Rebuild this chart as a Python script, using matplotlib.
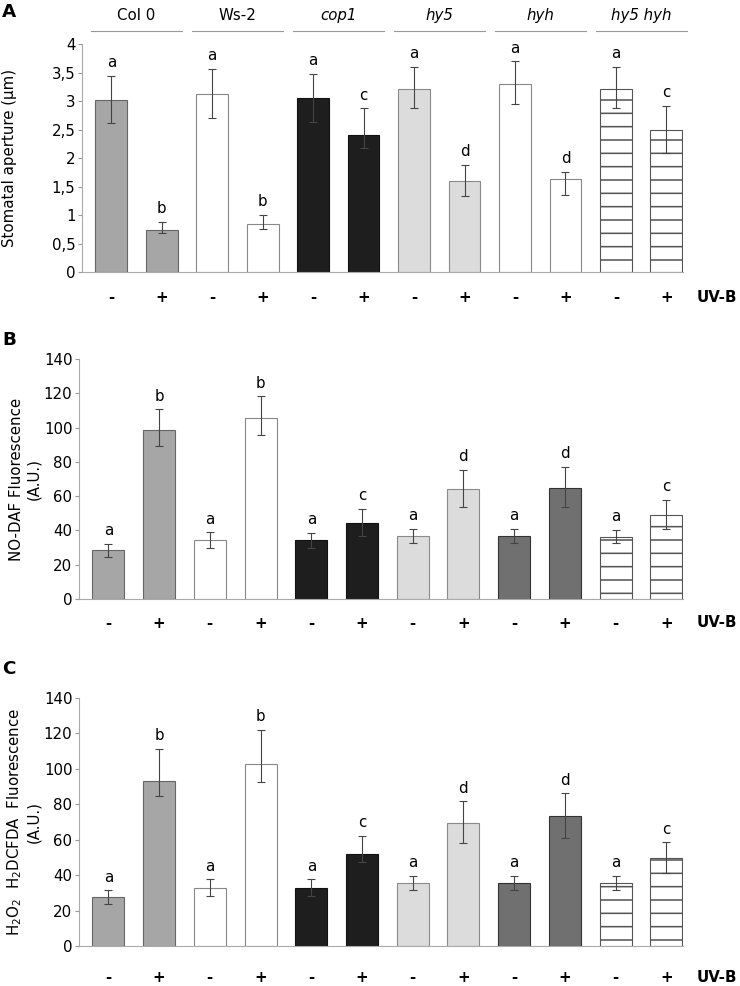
import matplotlib
matplotlib.use("Agg")
import matplotlib.pyplot as plt
import numpy as np

# genotipos y tratamientos
genotypes = ["Col 0", "Ws-2", "cop1", "hy5", "hyh", "hy5 hyh"]
italic = [False, False, True, True, True, True]
treatments = ["-", "+"] * 6

# Panel A: apertura estomática (µm)
a_vals = [3.02, 0.745, 3.13, 0.84, 3.05, 2.40, 3.21, 1.60, 3.30, 1.63, 3.21, 2.49]
a_up = [3.44, 0.88, 3.57, 1.00, 3.48, 2.87, 3.60, 1.88, 3.70, 1.76, 3.60, 2.92]
a_lo = [2.61, 0.68, 2.70, 0.76, 2.63, 2.17, 2.87, 1.33, 2.94, 1.36, 2.87, 2.08]
a_let = ["a", "b", "a", "b", "a", "c", "a", "d", "a", "d", "a", "c"]

# Panel B: NO-DAF
b_vals = [28.4, 98.8, 34.2, 105.8, 34.2, 44.3, 36.6, 64.4, 36.6, 64.8, 36.4, 49.2]
b_up = [32.3, 110.7, 38.9, 118.3, 38.7, 52.7, 41.0, 75.4, 41.0, 77.2, 40.5, 57.8]
b_lo = [24.3, 89.5, 29.6, 95.7, 29.6, 36.8, 32.5, 53.7, 32.5, 53.9, 32.5, 41.0]
b_let = ["a", "b", "a", "b", "a", "c", "a", "d", "a", "d", "a", "c"]

# Panel C: H2DCFDA
c_vals = [27.7, 93.4, 33.0, 102.5, 33.0, 52.2, 35.4, 69.7, 35.4, 73.5, 35.4, 49.6]
c_up = [31.5, 111.4, 37.7, 122.1, 37.7, 62.2, 39.7, 81.8, 39.7, 86.3, 39.7, 58.6]
c_lo = [23.9, 84.6, 28.4, 92.5, 28.4, 47.5, 31.7, 58.0, 31.7, 61.2, 31.7, 41.4]
c_let = ["a", "b", "a", "b", "a", "c", "a", "d", "a", "d", "a", "c"]

# estilos por genotipo (hyh blanco en A, gris oscuro en B y C)
fills_A = ["#a6a6a6", "#ffffff", "#1e1e1e", "#dcdcdc", "#ffffff", "#ffffff"]
fills_BC = ["#a6a6a6", "#ffffff", "#1e1e1e", "#dcdcdc", "#707070", "#ffffff"]
edges_A = ["#666666", "#888888", "#111111", "#8a8a8a", "#888888", "#555555"]
edges_BC = ["#666666", "#888888", "#111111", "#8a8a8a", "#333333", "#555555"]

DPI = 80
FS = 13.5
fig = plt.figure(figsize=(740 / DPI, 986 / DPI), dpi=DPI)
plt.rcParams["font.family"] = "DejaVu Sans"
plt.rcParams["hatch.linewidth"] = 1.4

x = np.arange(len(treatments))
W = 0.63


def panel(rect, vals, up, lo, letters, fills, edges, ylim, yticks, yticklabels,
          ylabel, letter, letter_y, xlab_pad, uvb_y):
    ax = fig.add_axes(rect)
    for i in range(len(vals)):
        g = i // 2
        hatch = "-" if g == 5 else None
        ax.bar(x[i], vals[i], width=W, color=fills[g], edgecolor=edges[g],
               linewidth=1.0, hatch=hatch, zorder=2)
    yerr = [np.array(vals) - np.array(lo), np.array(up) - np.array(vals)]
    ax.errorbar(x, vals, yerr=yerr, fmt="none", ecolor="#444444",
                elinewidth=1.0, capsize=3.6, capthick=1.0, zorder=3)
    for i in range(len(vals)):
        ax.annotate(letters[i], (x[i], up[i]), xytext=(0, 5),
                    textcoords="offset points", ha="center", va="bottom",
                    fontsize=FS)
    ax.set_xlim(-0.58, 11.33)
    ax.set_ylim(*ylim)
    ax.set_yticks(yticks)
    ax.set_yticklabels(yticklabels, fontsize=FS)
    ax.set_xticks(x)
    ax.set_xticklabels(treatments, fontsize=FS, fontweight="bold")
    ax.tick_params(axis="x", length=0, pad=xlab_pad)
    ax.tick_params(axis="y", length=4, color="#999999", width=1, pad=2)
    for s in ["top", "right"]:
        ax.spines[s].set_visible(False)
    for s in ["left", "bottom"]:
        ax.spines[s].set_color("#aaaaaa")
        ax.spines[s].set_linewidth(1.0)
    ax.set_ylabel(ylabel, fontsize=FS, linespacing=1.2)
    ax.text(12.0, uvb_y, "UV-B", transform=ax.get_xaxis_transform(),
            fontsize=FS, fontweight="bold", ha="center", va="center",
            clip_on=False)
    fig.text(0.003, letter_y, letter, fontsize=16.5, fontweight="bold",
             ha="left", va="center")
    return ax


axA = panel([0.1108, 0.7241, 0.8122, 0.2312], a_vals, a_up, a_lo, a_let,
            fills_A, edges_A, (0, 4), np.arange(0, 4.01, 0.5),
            ["0", "0,5", "1", "1,5", "2", "2,5", "3", "3,5", "4"],
            "Stomatal aperture (µm)", "A", 0.988, 16, -0.11)
axA.yaxis.set_label_coords(-0.108, 0.5)

axB = panel([0.1068, 0.3925, 0.8162, 0.2434], b_vals, b_up, b_lo, b_let,
            fills_BC, edges_BC, (0, 140), np.arange(0, 141, 20),
            [str(v) for v in range(0, 141, 20)],
            "NO-DAF Fluorescence\n(A.U.)", "B", 0.655, 15, -0.10)
axB.yaxis.set_label_coords(-0.062, 0.5)

axC = panel([0.1068, 0.0406, 0.8162, 0.2515], c_vals, c_up, c_lo, c_let,
            fills_BC, edges_BC, (0, 140), np.arange(0, 141, 20),
            [str(v) for v in range(0, 141, 20)],
            "H$_2$O$_2$  H$_2$DCFDA  Fluorescence\n(A.U.)", "C", 0.3215, 22,
            -0.129)
axC.yaxis.set_label_coords(-0.062, 0.5)

# encabezados de genotipo sobre el panel A
for g, name in enumerate(genotypes):
    cx = x[2 * g] + 0.5
    axA.plot([cx - 0.9, cx + 0.9], [1.057, 1.057], color="#999999", lw=1.0,
             transform=axA.get_xaxis_transform(), clip_on=False)
    axA.text(cx, 1.127, name, ha="center", va="center", fontsize=FS,
             style="italic" if italic[g] else "normal",
             transform=axA.get_xaxis_transform())

fig.savefig("out.png", dpi=DPI)
